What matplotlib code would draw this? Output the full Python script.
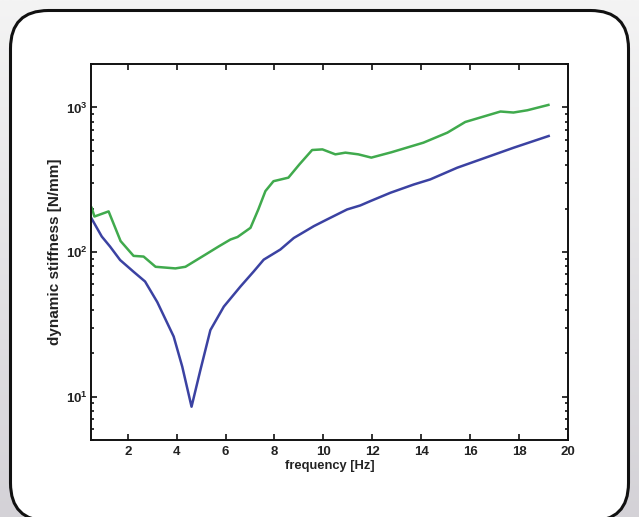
import numpy as np
import matplotlib
matplotlib.use("Agg")
import matplotlib.pyplot as plt
from matplotlib.patches import FancyBboxPatch
from matplotlib.ticker import FixedLocator, LogLocator, NullFormatter

plt.rcParams['font.family'] = ['Liberation Sans', 'DejaVu Sans']
plt.rcParams['mathtext.fontset'] = 'custom'
plt.rcParams['mathtext.rm'] = 'Liberation Sans'
plt.rcParams['mathtext.bf'] = 'Liberation Sans:bold'

# ---- data ----
green_freq = [0.53, 0.64, 1.22, 1.71, 2.24, 2.65, 3.14, 3.95, 4.36, 5.18, 5.71, 6.20,
              6.49, 7.02, 7.34, 7.63, 7.96, 8.57, 9.02, 9.54, 9.96, 10.49, 10.90,
              11.43, 11.96, 12.78, 14.09, 15.07, 15.80, 16.42, 17.24, 17.77, 18.34, 19.20]
green_stiff = [202, 176, 191, 119, 94, 93, 79, 77, 79, 96, 109, 122,
               127, 147, 197, 264, 309, 327, 404, 508, 513, 474, 487,
               474, 450, 490, 571, 670, 794, 853, 938, 923, 957, 1042]

blue_freq = [0.51, 0.94, 1.28, 1.69, 2.24, 2.71, 3.21, 3.88, 4.23, 4.61, 4.97, 5.38,
             5.93, 6.61, 7.15, 7.56, 8.24, 8.79, 9.61, 10.15, 10.97, 11.51, 11.92,
             12.74, 13.69, 14.37, 15.47, 17.78, 19.21]
blue_stiff = [172, 128, 109, 88, 73, 62.5, 45, 26, 16.1, 8.5, 15.2, 28.8,
              41.9, 57.7, 73.3, 88.5, 104, 125, 151, 168, 197, 210, 225,
              257, 293, 318, 383, 527, 635]

x_ticks = [2, 4, 6, 8, 10, 12, 14, 16, 18, 20]
x_tick_labels = ['2', '4', '6', '8', '10', '12', '14', '16', '18', '20']
y_ticks = [10, 100, 1000]
y_tick_labels = [r'$\mathbf{10^{1}}$', r'$\mathbf{10^{2}}$', r'$\mathbf{10^{3}}$']
x_label = 'frequency [Hz]'
y_label = 'dynamic stiffness [N/mm]'

W, H = 639, 517
fig = plt.figure(figsize=(W / 100, H / 100), dpi=100)

# ---- background: grey gradient + white rounded panel ----
bg = fig.add_axes([0, 0, 1, 1], zorder=0)
bg.set_xlim(0, W)
bg.set_ylim(0, H)
bg.axis('off')
grad = np.linspace(0, 1, 256).reshape(-1, 1)
top_c = np.array([244, 244, 244]) / 255
bot_c = np.array([212, 210, 215]) / 255
img = top_c[None, None, :] * (1 - grad[:, :, None]) + bot_c[None, None, :] * grad[:, :, None]
bg.imshow(img, extent=[0, W, 0, H], aspect='auto', origin='upper', zorder=0)
panel = FancyBboxPatch((10.5, -4), 618, H - 10.5 + 4,
                       boxstyle="round,pad=0,rounding_size=38",
                       facecolor='white', edgecolor='#111111', linewidth=2.2, zorder=1)
bg.add_patch(panel)

# ---- main axes ----
ax = fig.add_axes([91 / W, 1 - 440 / H, (568 - 91) / W, (440 - 64) / H], zorder=2)
ax.set_facecolor('white')
ax.plot(green_freq, green_stiff, color='#40aa4d', linewidth=1.8)
ax.plot(blue_freq, blue_stiff, color='#3b42a2', linewidth=1.8)

ax.set_yscale('log')
ax.set_xlim(0.5, 20)
ax.set_ylim(5, 2000)

ax.xaxis.set_major_locator(FixedLocator(x_ticks))
ax.set_xticklabels(x_tick_labels)
ax.yaxis.set_major_locator(FixedLocator(y_ticks))
ax.set_yticklabels(y_tick_labels)
ax.yaxis.set_minor_locator(LogLocator(base=10, subs=np.arange(2, 10), numticks=20))
ax.yaxis.set_minor_formatter(NullFormatter())

for lbl in ax.get_xticklabels() + ax.get_yticklabels():
    lbl.set_fontweight('bold')
    lbl.set_fontsize(9.5)
    lbl.set_color('#222222')

ax.tick_params(which='both', direction='in', top=True, right=True, width=1.2, color='#111111')
ax.tick_params(which='major', length=4, pad=4)
ax.tick_params(axis='y', which='major', pad=2.5)
ax.tick_params(which='minor', length=2)
for s in ax.spines.values():
    s.set_linewidth(1.4)
    s.set_color('#111111')

ax.set_xlabel(x_label, fontsize=9.3, fontweight='bold', color='#222222', labelpad=2)
ax.set_ylabel(y_label, fontsize=11, fontweight='bold', color='#222222')
ax.yaxis.set_label_coords(-0.06, 0.5)

fig.savefig('out.png', dpi=100)
